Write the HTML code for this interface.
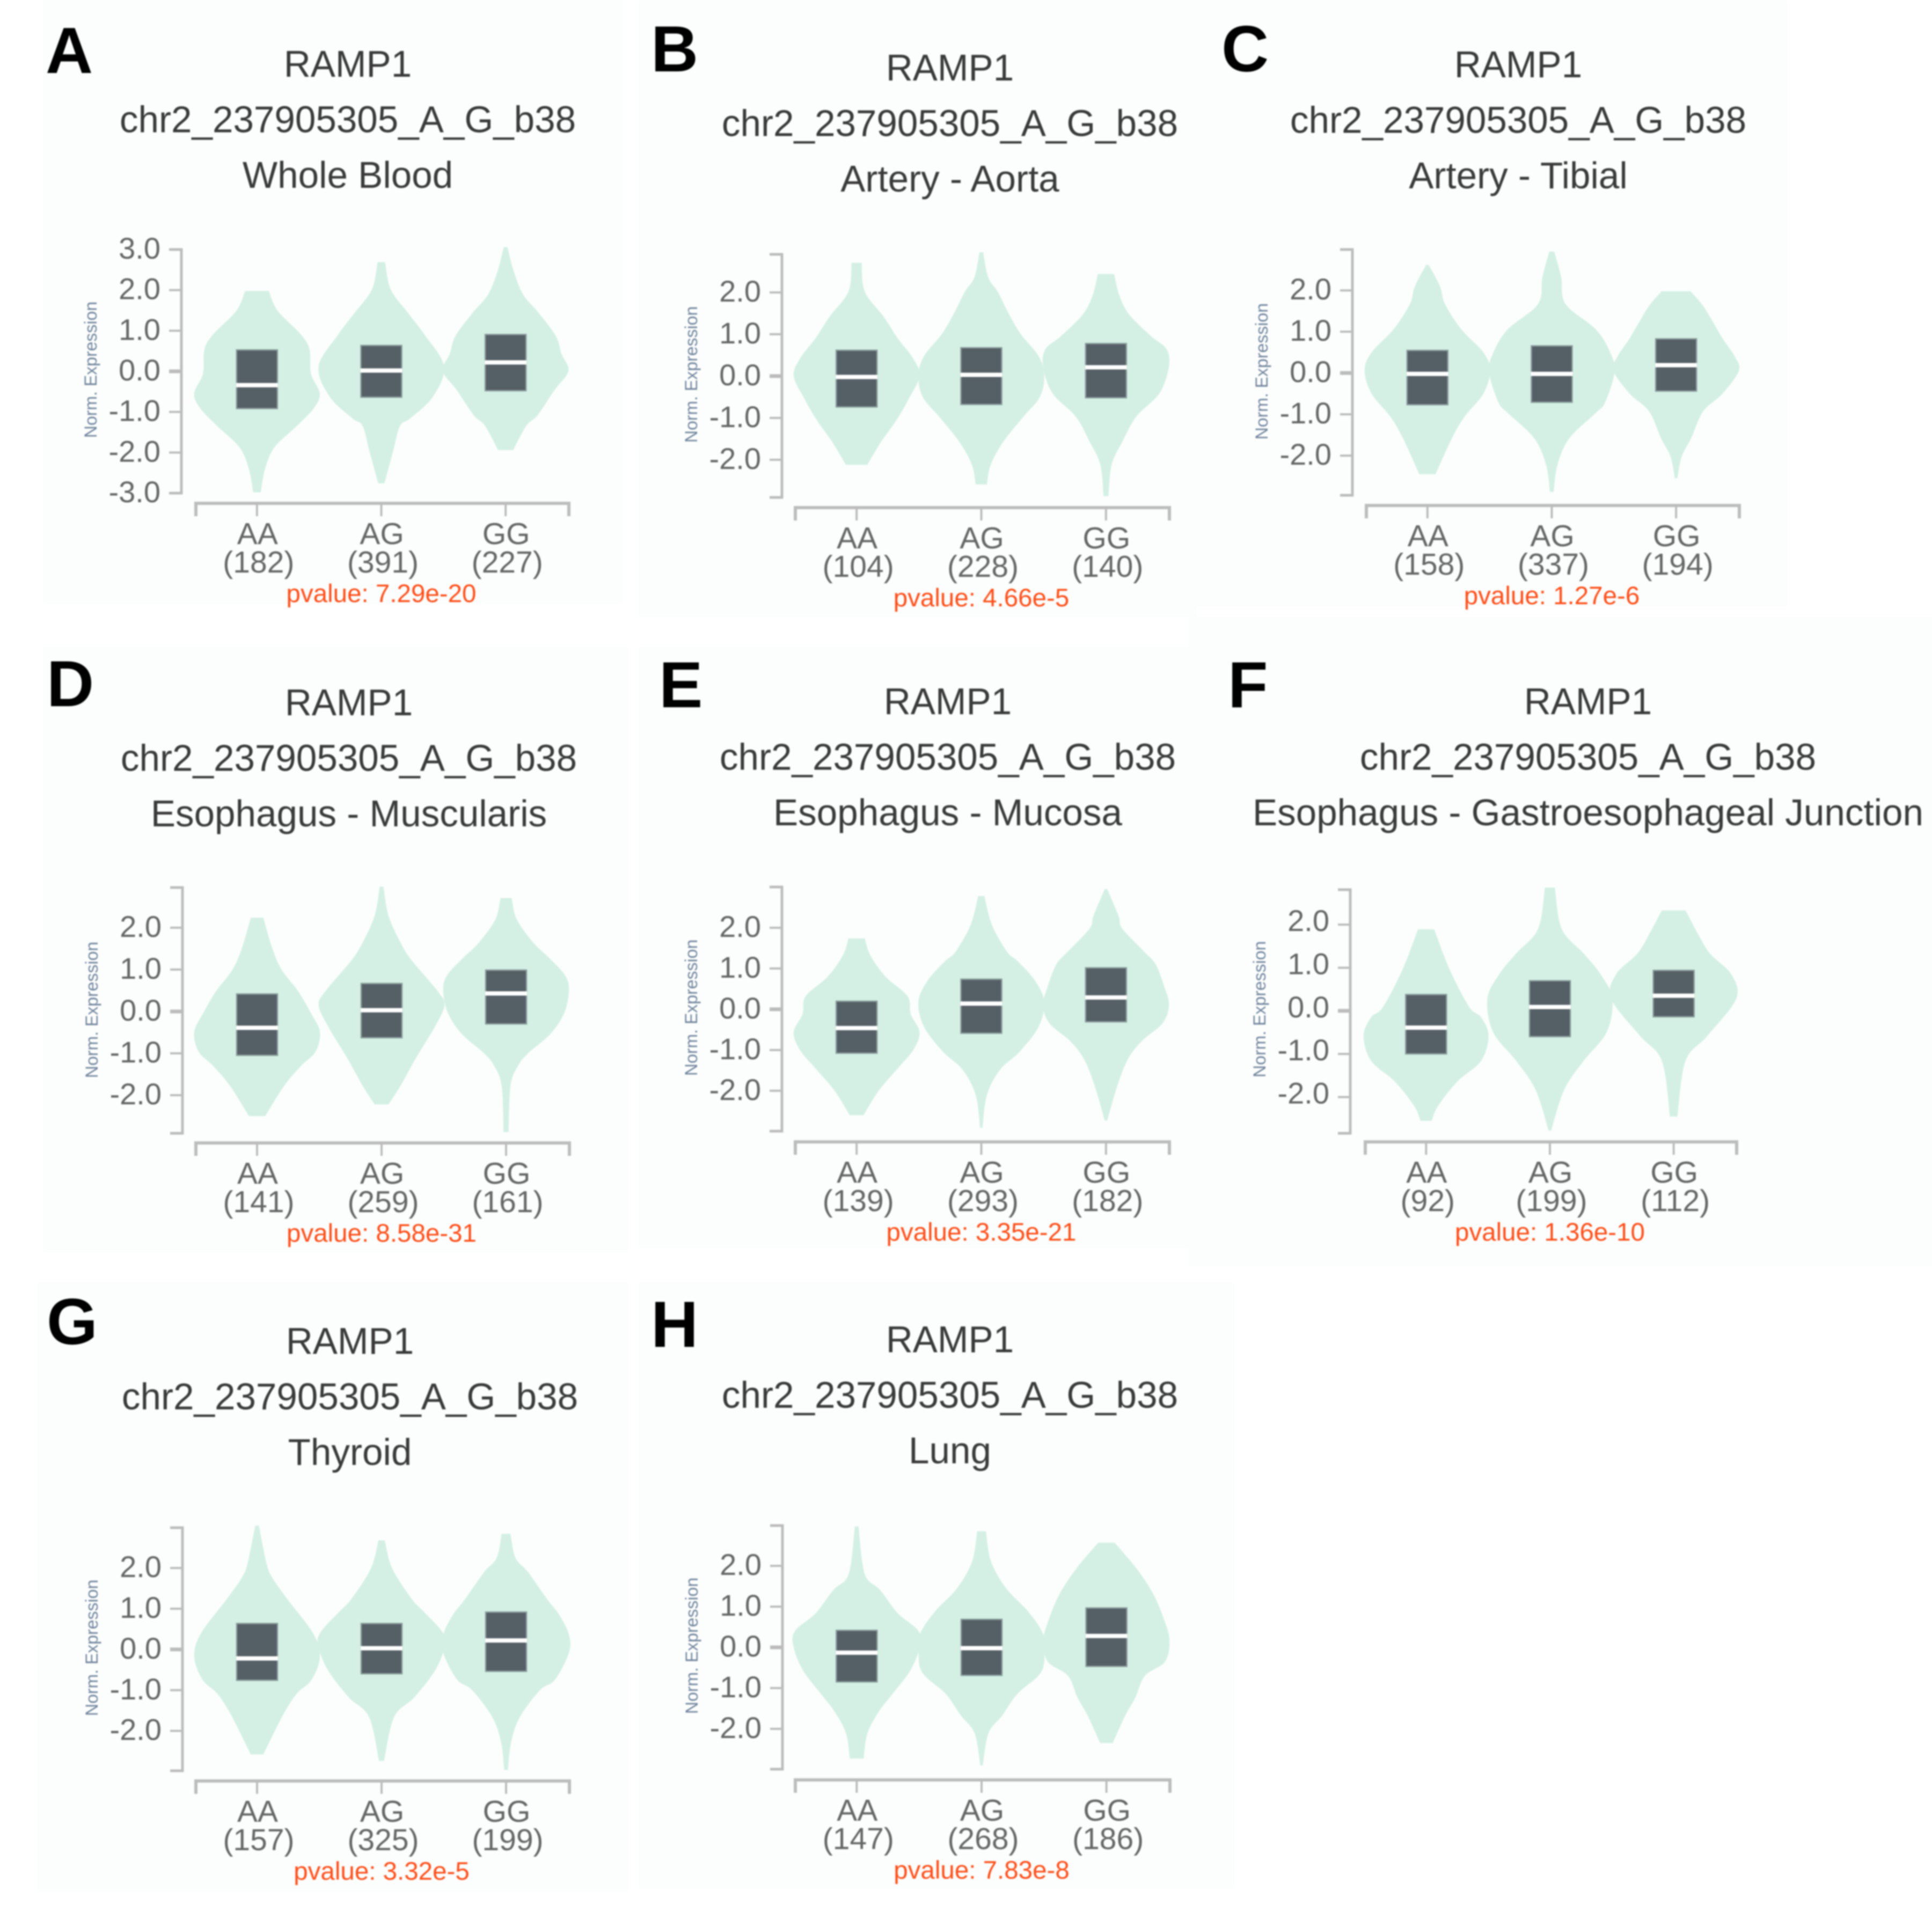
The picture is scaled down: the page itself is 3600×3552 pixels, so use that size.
<!DOCTYPE html>
<html lang="en">
<head>
<meta charset="utf-8">
<title>RAMP1 violin plots</title>
<style>
html,body{margin:0;padding:0;background:#fff;width:3600px;height:3552px;overflow:hidden}
svg{display:block;font-family:"Liberation Sans",Arial,sans-serif;filter:blur(1.3px)}
</style>
</head>
<body>
<svg id="fig" width="3600" height="3552" viewBox="0 0 3600 3552" xmlns="http://www.w3.org/2000/svg"></svg>
<script>
/* ---------- chart data ---------- */
const panelLetters = ["A","B","C","D","E","F","G","H"];
const geneName = "RAMP1";
const variantName = "chr2_237905305_A_G_b38";
const tissues = ["Whole Blood","Artery - Aorta","Artery - Tibial","Esophagus - Muscularis","Esophagus - Mucosa","Esophagus - Gastroesophageal Junction","Thyroid","Lung"];
const genotypes = ["AA","AG","GG"];
const sampleCounts = [[182,391,227],[104,228,140],[158,337,194],[141,259,161],[139,293,182],[92,199,112],[157,325,199],[147,268,186]];
const pvalueLabels = ["7.29e-20","4.66e-5","1.27e-6","8.58e-31","3.35e-21","1.36e-10","3.32e-5","7.83e-8"];
const yAxisTitle = "Norm. Expression";
const yTicksFull = [3,2,1,0,-1,-2,-3];
const yTicksShort = [2,1,0,-1,-2];
const yDomainMax = [3.0,2.91,2.99,2.96,3.0,2.81,2.99,2.99];
const yDomainMin = [-3.0,-2.90,-2.96,-2.91,-2.99,-2.84,-2.98,-2.99];

const medians = [[-0.34,0.02,0.22],[-0.02,0.03,0.21],[-0.02,-0.02,0.19],[-0.39,0.03,0.43],[-0.46,0.14,0.29],[-0.39,0.09,0.35],[-0.22,0.03,0.22],[-0.13,-0.02,0.28]];
const quartileUpper = [[0.54,0.65,0.92],[0.63,0.69,0.79],[0.56,0.67,0.84],[0.43,0.68,1.0],[0.21,0.75,1.03],[0.39,0.71,0.95],[0.65,0.65,0.93],[0.43,0.7,0.98]];
const quartileLower = [[-0.93,-0.65,-0.49],[-0.75,-0.69,-0.53],[-0.78,-0.72,-0.45],[-1.06,-0.64,-0.31],[-1.09,-0.6,-0.32],[-1.01,-0.61,-0.15],[-0.77,-0.61,-0.55],[-0.86,-0.7,-0.48]];

/* violin outline: expression level and relative density at that level */
const violinLevels = [
 [[1.98,1.49,0.89,0.52,-0.06,-0.54,-0.90,-1.34,-1.87,-2.40,-2.98],[2.69,2.02,1.45,0.92,0.12,-0.63,-1.16,-1.34,-1.96,-2.76],[3.06,2.46,1.89,1.45,0.87,0.43,0.01,-0.46,-1.08,-1.34,-1.94]],
 [[2.71,2.02,1.42,0.91,0.44,0.01,-0.54,-1.06,-1.57,-2.12],[2.96,2.36,2.02,1.51,1.0,0.48,0.01,-0.5,-0.97,-1.57,-2.12,-2.59],[2.44,1.94,1.47,0.95,0.65,0.23,-0.41,-0.97,-1.57,-2.12,-2.87]],
 [[2.62,2.1,1.67,1.06,0.5,0.06,-0.5,-1.06,-1.58,-2.45],[2.94,2.32,1.67,1.06,0.5,0.02,-0.71,-0.97,-1.58,-2.23,-2.88],[1.98,1.67,1.36,0.84,0.41,0.06,-0.5,-0.93,-1.58,-2.02,-2.55]],
 [[2.24,1.52,1.0,0.49,-0.02,-0.49,-0.96,-1.3,-1.78,-2.5],[2.98,2.29,1.65,1.22,0.49,0.15,-0.36,-1.13,-1.78,-2.22],[2.71,2.2,1.65,1.3,0.88,0.53,-0.02,-0.53,-1.0,-1.3,-1.78,-2.88]],
 [[1.74,1.32,0.8,0.32,-0.12,-0.56,-1.0,-1.44,-2.0,-2.6],[2.78,2.07,1.41,1.19,0.71,0.18,-0.43,-1.04,-1.48,-2.1,-2.91],[2.95,2.29,1.98,1.41,1.1,0.54,0.1,-0.34,-0.78,-1.22,-1.88,-2.73]],
 [[1.89,0.95,0.09,-0.15,-0.58,-1.16,-1.64,-2.21,-2.55],[2.86,1.9,1.33,0.85,0.28,-0.49,-1.16,-1.83,-2.78],[2.33,1.81,1.33,0.85,0.28,-0.58,-1.16,-2.45]],
 [[3.04,2.12,1.77,1.24,0.4,-0.17,-0.74,-1.09,-1.62,-2.58],[2.68,1.99,1.24,0.93,0.4,0.05,-0.52,-1.18,-1.66,-2.74],[2.84,2.25,1.9,1.24,0.84,0.36,-0.08,-0.74,-1.0,-1.66,-2.28,-2.96]],
 [[2.97,2.07,1.67,1.41,0.84,0.4,0,-0.57,-1.14,-1.58,-2.11,-2.73],[2.85,2.11,1.45,0.88,0.35,-0.09,-0.62,-1.14,-1.67,-2.11,-2.9],[2.57,1.93,1.32,0.7,0.18,-0.35,-0.7,-1.23,-1.67,-2.35]]
];
const violinDensity = [
 [[0.19,0.33,0.71,0.84,0.86,1,0.91,0.64,0.28,0.13,0.06],[0.06,0.15,0.42,0.68,1,0.82,0.46,0.3,0.19,0.05],[0.03,0.13,0.28,0.52,0.8,0.89,1,0.78,0.51,0.33,0.12]],
 [[0.08,0.13,0.43,0.65,0.89,1,0.83,0.63,0.39,0.17],[0.03,0.11,0.26,0.43,0.63,0.91,1,0.93,0.67,0.35,0.15,0.09],[0.13,0.21,0.37,0.72,0.96,1,0.85,0.48,0.26,0.09,0.04]],
 [[0.02,0.2,0.28,0.54,0.89,1,0.89,0.59,0.39,0.13],[0.04,0.15,0.22,0.7,0.93,1,0.85,0.7,0.28,0.09,0.03],[0.23,0.41,0.54,0.74,0.93,1,0.74,0.43,0.24,0.09,0.02]],
 [[0.1,0.24,0.39,0.65,0.85,1,0.93,0.7,0.43,0.13],[0.03,0.11,0.3,0.48,0.89,1,0.85,0.54,0.3,0.11],[0.09,0.17,0.43,0.67,0.93,1,0.93,0.71,0.35,0.19,0.07,0.04]],
 [[0.13,0.22,0.46,0.81,0.86,1,0.9,0.66,0.35,0.11],[0.05,0.17,0.41,0.57,0.85,1,0.91,0.61,0.3,0.09,0.02],[0.02,0.2,0.26,0.61,0.79,0.93,1,0.9,0.57,0.35,0.18,0.02]],
 [[0.13,0.38,0.69,0.88,1,0.88,0.5,0.19,0.09],[0.08,0.19,0.54,0.81,1,0.91,0.54,0.23,0.02],[0.19,0.38,0.58,0.92,1,0.54,0.19,0.06]],
 [[0.03,0.15,0.24,0.48,0.89,1,0.87,0.63,0.41,0.1],[0.05,0.17,0.48,0.67,0.98,1,0.85,0.52,0.2,0.04],[0.07,0.15,0.35,0.65,0.85,1,1,0.78,0.54,0.22,0.08,0.03]],
 [[0.03,0.09,0.17,0.37,0.65,0.98,1,0.85,0.57,0.35,0.17,0.11],[0.07,0.15,0.39,0.74,0.97,1,0.94,0.57,0.33,0.11,0.02],[0.13,0.48,0.74,0.91,1,0.93,0.61,0.46,0.3,0.1]]
];

/* ---------- layout (pixels), separate from data ---------- */
const layoutYAxisX = [338,1457,2520,340,1457,2516,340,1458];
const layoutPlotTop = [465,474,465,1654,1653,1658,2847,2843];
const layoutPlotBottom = [919,927,923,2112,2108,2112,3300,3297];
const layoutXAxisY = [938,946,942,2130,2128,2128,3319,3317];
const layoutXLeft = [365,1482,2546,365,1482,2544,365,1482];
const layoutXRight = [1060,2179,3241,1061,2179,3236,1061,2180];
const layoutTitleX = [648,1770,2829,650,1766,2959,652,1770];
const layoutTitleY = [143,150,144,1333,1331,1331,2523,2520];
const layoutLetterX = [85,1213,2276,87,1228,2288,87,1213];
const layoutLetterY = [136,133,133,1316,1318,1318,2505,2510];
const layoutLabelShift = [-3,-3,-3,-3,-3,-8,-3,-3];
const layoutBgX = [80,1190,2230,80,1190,2215,70,1190];
const layoutBgY = [0,0,0,1205,1205,1150,2390,2390];
const layoutBgW = [1080,1040,1100,1090,1030,1385,1100,1110];
const layoutBgH = [1125,1150,1130,1130,1120,1210,1135,1130];

/* ---------- drawing ---------- */
const NS = "http://www.w3.org/2000/svg";
const root = document.getElementById("fig");

function mk(tag, parent, attrs, txt) {
  const e = document.createElementNS(NS, tag);
  for (const k in attrs) e.setAttribute(k, attrs[k]);
  if (txt !== undefined) e.textContent = txt;
  parent.appendChild(e);
  return e;
}
function fmt(v) { return v.toFixed(1); }

/* smooth curve through outline points (Catmull-Rom to cubic Bezier) */
function splineThrough(pts) {
  let d = "";
  for (let i = 0; i < pts.length - 1; i++) {
    const a = pts[Math.max(0, i - 1)], b = pts[i], c = pts[i + 1], e = pts[Math.min(pts.length - 1, i + 2)];
    d += "C" + (b[0] + (c[0] - a[0]) / 6).toFixed(1) + " " + (b[1] + (c[1] - a[1]) / 6).toFixed(1) + " " +
         (c[0] - (e[0] - b[0]) / 6).toFixed(1) + " " + (c[1] - (e[1] - b[1]) / 6).toFixed(1) + " " +
         c[0].toFixed(1) + " " + c[1].toFixed(1);
  }
  return d;
}

panelLetters.forEach(function (letter, p) {
  const slug = letter.toLowerCase();
  const g = mk("g", root, {});
  
  

  const bg = mk("rect", g, {x: layoutBgX[p], y: layoutBgY[p], width: layoutBgW[p], height: layoutBgH[p], fill: "#fcfefd"});
  
  

  const yScale = function (v) {
    return layoutPlotTop[p] + (yDomainMax[p] - v) / (yDomainMax[p] - yDomainMin[p]) * (layoutPlotBottom[p] - layoutPlotTop[p]);
  };
  const band = (layoutXRight[p] - layoutXLeft[p]) / 3;
  const xScale = function (i) { return layoutXLeft[p] + (i + 0.5) * band - 2; };
  const widthScale = function (d) { return d * band / 2 * 1.01; };
  const axisX = layoutYAxisX[p];

  /* panel letter */
  const lt = mk("text", g, {x: layoutLetterX[p], y: layoutLetterY[p], "font-size": 122, "font-weight": "bold", fill: "#000"}, letter);
  
  

  /* titles */
  const t1 = mk("text", g, {x: layoutTitleX[p], y: layoutTitleY[p], "font-size": 69.2, "text-anchor": "middle", fill: "#3a3a3a"}, geneName);
  
  
  const t2 = mk("text", g, {x: layoutTitleX[p], y: layoutTitleY[p] + 103.5, "font-size": 69.2, "text-anchor": "middle", fill: "#3a3a3a"}, variantName);
  
  
  const t3 = mk("text", g, {x: layoutTitleX[p], y: layoutTitleY[p] + 207, "font-size": 69.2, "text-anchor": "middle", fill: "#3a3a3a"}, tissues[p]);
  
  

  /* y axis */
  const yTitleX = axisX - 158;
  const yMid = yScale(0) - 3;
  const yt = mk("text", g, {x: yTitleX, y: yMid, "font-size": 32, "text-anchor": "middle", fill: "#71849c", transform: "rotate(-90 " + yTitleX + " " + yMid + ")"}, yAxisTitle);
  
  

  const yLine = mk("path", g, {d: "M" + (axisX - 23) + " " + layoutPlotTop[p] + "H" + axisX + "V" + layoutPlotBottom[p] + "H" + (axisX - 23), fill: "none", stroke: "#bcbcbc", "stroke-width": 5});
  
  

  const ticks = p === 0 ? yTicksFull : yTicksShort;
  ticks.forEach(function (v) {
    const yy = yScale(v);
    const tk = mk("line", g, {x1: axisX - 23, x2: axisX, y1: yy, y2: yy, stroke: "#bcbcbc", "stroke-width": v === 0 ? 7 : 4});
    
    
    const tl = mk("text", g, {x: axisX - 39, y: yy + 20 + layoutLabelShift[p], "font-size": 56, "text-anchor": "end", fill: "#666"}, fmt(v));
    
    
  });

  /* x axis */
  const xAxisY = layoutXAxisY[p];
  const xLine = mk("path", g, {d: "M" + layoutXLeft[p] + " " + (xAxisY + 24) + "V" + xAxisY + "H" + layoutXRight[p] + "V" + (xAxisY + 24), fill: "none", stroke: "#bcbcbc", "stroke-width": 6});
  
  

  genotypes.forEach(function (gt, i) {
    const cx = xScale(i);
    const name = slug + '-' + gt.toLowerCase();

    /* violin from density profile */
    const levels = violinLevels[p][i];
    const dens = violinDensity[p][i];
    const right = levels.map(function (v, k) { return [cx + widthScale(dens[k]), yScale(v)]; });
    const left = levels.map(function (v, k) { return [cx - widthScale(dens[k]), yScale(v)]; }).reverse();
    const outline = "M" + right[0][0].toFixed(1) + " " + right[0][1].toFixed(1) + splineThrough(right) +
      "L" + left[0][0].toFixed(1) + " " + left[0][1].toFixed(1) + splineThrough(left) + "Z";
    const vio = mk("path", g, {d: outline, fill: "#d4f0e5"});
    
    

    /* interquartile box */
    const yUp = yScale(quartileUpper[p][i]);
    const yLo = yScale(quartileLower[p][i]);
    const box = mk("rect", g, {x: cx - 38, y: yUp + 1, width: 76, height: yLo - yUp - 2, fill: "#555f66", stroke: "#8a9c9b", "stroke-width": 2.5});
    
    

    /* median */
    const yMed = yScale(medians[p][i]);
    const med = mk("line", g, {x1: cx - 39, x2: cx + 39, y1: yMed, y2: yMed, stroke: "#ffffff", "stroke-width": 8});
    
    

    /* x tick and labels */
    const xt = mk("line", g, {x1: cx, x2: cx, y1: xAxisY, y2: xAxisY + 24, stroke: "#bcbcbc", "stroke-width": 4});
    
    
    const xl = mk("text", g, {x: cx + 1, y: xAxisY + 76, "font-size": 57, "text-anchor": "middle", fill: "#666"}, gt);
    
    
    const xc = mk("text", g, {x: cx + 3, y: xAxisY + 129, "font-size": 57, "text-anchor": "middle", fill: "#666"}, "(" + sampleCounts[p][i] + ")");
    
    
  });

  /* p-value */
  const pv = mk("text", g, {x: xScale(1), y: xAxisY + 184, "font-size": 47.5, "text-anchor": "middle", fill: "#ff4d17"}, "pvalue: " + pvalueLabels[p]);
  
  
});
</script>
</body>
</html>
